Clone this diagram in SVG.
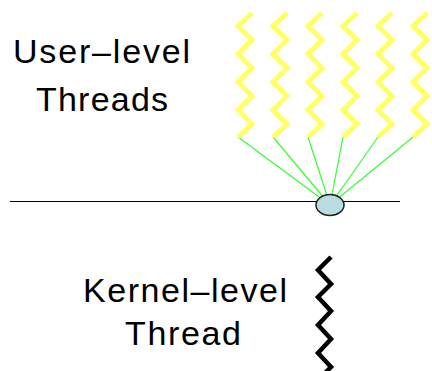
<svg xmlns="http://www.w3.org/2000/svg" width="432" height="371" viewBox="0 0 432 371">
<style>
.lbl{font-family:"Liberation Sans",Arial,sans-serif;font-size:34px;fill:#000}
.uth{fill:none;stroke:#FFFF66;stroke-width:5;stroke-linejoin:miter}
.kth{fill:none;stroke:#000;stroke-width:4.5;stroke-linejoin:miter}
.conn{stroke:#33FF33;stroke-width:1.2;fill:none}
</style>
<defs>
<polyline id="zz" points="252,13 238,26 252,40 238,54 252,68 238,82 252,96 238,110 252,124 238,137"/>
</defs>
<rect width="432" height="371" fill="#fff"/>
<g id="labels">
<text class="lbl" x="13" y="63" textLength="177" lengthAdjust="spacing">User–level</text>
<text class="lbl" x="36" y="111" textLength="132" lengthAdjust="spacing">Threads</text>
<text class="lbl" x="83" y="302" textLength="204" lengthAdjust="spacing">Kernel–level</text>
<text class="lbl" x="125" y="345" textLength="116" lengthAdjust="spacing">Thread</text>
</g>
<line id="boundary" x1="10" y1="201.5" x2="400" y2="201.5" stroke="#000" stroke-width="1"/>
<g id="connectors">
<line class="conn" x1="238" y1="137" x2="330" y2="205"/>
<line class="conn" x1="273" y1="137" x2="330" y2="205"/>
<line class="conn" x1="308" y1="137" x2="330" y2="205"/>
<line class="conn" x1="343" y1="137" x2="330" y2="205"/>
<line class="conn" x1="378" y1="137" x2="330" y2="205"/>
<line class="conn" x1="413" y1="137" x2="330" y2="205"/>
</g>
<g id="user-thread-1"><use href="#zz" class="uth"/></g>
<g id="user-thread-2"><use href="#zz" class="uth" x="35"/></g>
<g id="user-thread-3"><use href="#zz" class="uth" x="70"/></g>
<g id="user-thread-4"><use href="#zz" class="uth" x="105"/></g>
<g id="user-thread-5"><use href="#zz" class="uth" x="140"/></g>
<g id="user-thread-6"><use href="#zz" class="uth" x="175"/></g>
<g id="mapper"><ellipse cx="330" cy="205" rx="14" ry="10.5" fill="#B9DDE1" stroke="#222" stroke-width="1.5"/></g>
<g id="kernel-thread"><polyline class="kth" points="331,257 318,270 331,284 318,297 331,311 318,325 331,339 318,353 331,367 318,380"/></g>
</svg>
